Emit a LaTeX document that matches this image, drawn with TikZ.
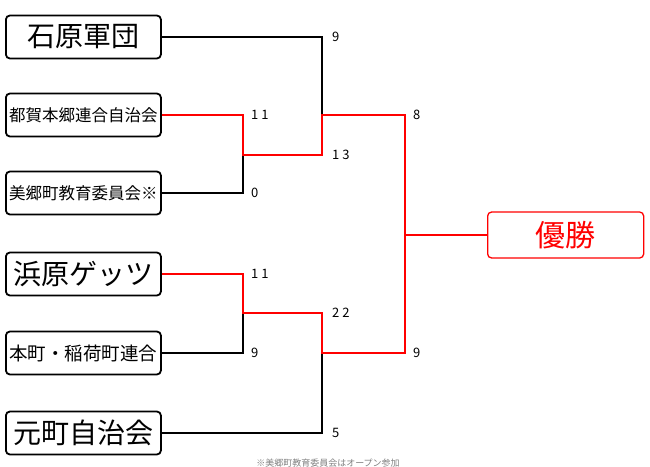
\documentclass[tikz,border=0pt]{standalone}
\usepackage{fontspec}
\setmainfont{Noto Sans CJK JP}
\begin{document}
\begin{tikzpicture}[x=1pt,y=-1pt,
  team/.style={draw=black,line width=1.8pt,rounded corners=4pt,minimum height=43pt,minimum width=155pt,inner sep=1pt,anchor=west},
  win/.style={draw=red,line width=1.3pt,rounded corners=4pt,minimum height=46pt,minimum width=156pt,anchor=west,text=red,font=\fontsize{30}{32}\selectfont},
  bl/.style={black,line width=1.2pt},
  rd/.style={red,line width=2.8pt},
  sc/.style={font=\fontsize{13}{15}\selectfont,anchor=west,inner sep=1pt}]
\useasboundingbox (0,0) rectangle (650,466);
\node[team,font=\fontsize{28}{30}\selectfont] (t1) at (5,37) {石原軍団};
\node[team,font=\fontsize{16.5}{18}\selectfont] (t2) at (5,115) {都賀本郷連合自治会};
\node[team,font=\fontsize{16.5}{18}\selectfont] (t3) at (5,193) {美郷町教育委員会※};
\node[team,font=\fontsize{28}{30}\selectfont] (t4) at (5,274) {浜原ゲッツ};
\node[team,font=\fontsize{18.5}{20}\selectfont] (t5) at (5,353) {本町・稲荷町連合};
\node[team,font=\fontsize{28}{30}\selectfont] (t6) at (5,433) {元町自治会};
\node[win] (w) at (487,235) {優勝};
\coordinate (a) at (243,115); \coordinate (a2) at (243,155); \coordinate (a3) at (243,193);
\coordinate (b) at (322,155); \coordinate (b1) at (322,37); \coordinate (b2) at (322,115);
\coordinate (c) at (405,115); \coordinate (c2) at (405,235); \coordinate (c3) at (405,353);
\coordinate (d) at (243,274); \coordinate (d2) at (243,313); \coordinate (d3) at (243,353);
\coordinate (e) at (322,313); \coordinate (e2) at (322,353); \coordinate (e3) at (322,433);
\draw[bl] (t3.east) -- (a3) -- (a2);
\draw[bl] (t1.east) -- (b1) -- (b2);
\draw[bl] (t5.east) -- (d3) -- (d2);
\draw[bl] (t6.east) -- (e3) -- (e2);
\draw[rd] (t2.east) -- (a) -- (a2) -- (b) -- (b2) -- (c) -- (c2) -- (w.west);
\draw[rd] (t4.east) -- (d) -- (d2) -- (e) -- (e2) -- (c3) -- (c2);
\node[sc] (s1) at (331,37) {9};
\node[sc] (s2) at (250,115) {1 1};
\node[sc] (s3) at (331,155) {1 3};
\node[sc] (s4) at (250,193) {0};
\node[sc] (s5) at (412,115) {8};
\node[sc] (s6) at (250,274) {1 1};
\node[sc] (s7) at (331,313) {2 2};
\node[sc] (s8) at (250,353) {9};
\node[sc] (s9) at (412,353) {9};
\node[sc] (s10) at (331,433) {5};
\node[font=\fontsize{9}{10}\selectfont,text=gray] (note) at (328,463) {※美郷町教育委員会はオープン参加};
\end{tikzpicture}
\end{document}
